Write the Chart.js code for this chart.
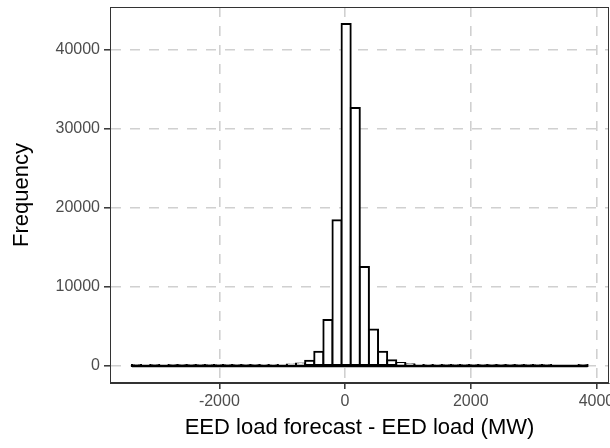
<!DOCTYPE html>
<html>
<head>
<meta charset="utf-8">
<script src="https://cdn.jsdelivr.net/npm/chart.js@4/dist/chart.umd.min.js"></script>
<style>
  html, body { margin: 0; padding: 0; background: #ffffff; }
  .chart-size { position: relative; width: 610px; height: 448px; }
</style>
</head>
<body>
<div class="chart-size">
  <canvas id="canvas"></canvas>
</div>
<script>
// histogram bins (MW), 51 edges for 50 bins
let binEdges = [
  -3390, -3245, -3100, -2955, -2810, -2665, -2520, -2375, -2230, -2085,
  -1940, -1795, -1650, -1505, -1360, -1215, -1070, -925, -780, -635,
  -490, -345, -200, -55, 90, 235, 380, 525, 670, 815,
  960, 1105, 1250, 1395, 1540, 1685, 1830, 1975, 2120, 2265,
  2410, 2555, 2700, 2845, 2990, 3135, 3280, 3425, 3570, 3715,
  3860
];
let counts = [
  2, 0, 1, 0, 1, 2, 1, 3, 4, 6,
  8, 12, 18, 25, 40, 60, 100, 170, 320, 650,
  1800, 5800, 18400, 43200, 32600, 12500, 4600, 1800, 720, 380,
  200, 110, 70, 45, 30, 20, 15, 10, 8, 6,
  4, 3, 2, 2, 1, 1, 0, 0, 0, 1
];
let xTicks = [-2000, 0, 2000, 4000];
let yTicks = [0, 10000, 20000, 30000, 40000];
let xRange = [-3740, 4200];
let yRange = [-2160, 45360];

let bars = counts.map((c, i) => ({ x: (binEdges[i] + binEdges[i + 1]) / 2, y: c }));
let baseline = [
  { x: binEdges[0], y: 0 },
  { x: binEdges[binEdges.length - 1], y: 0 }
];

let tickFont = { family: "'Liberation Sans', Arial, sans-serif", size: 16 };
let titleFont = { family: "'Liberation Sans', Arial, sans-serif", size: 22 };

let panelBorder = {
  id: "panelBorder",
  afterDraw(chart) {
    let a = chart.chartArea;
    let ctx = chart.ctx;
    ctx.save();
    ctx.strokeStyle = "#333333";
    ctx.lineWidth = 1;
    ctx.strokeRect(Math.round(a.left) + 0.5, Math.round(a.top) + 0.5,
      Math.round(a.right - a.left) - 1, Math.round(a.bottom - a.top) - 1);
    ctx.restore();
  }
};

let gridOpts = {
  offset: false,
  color: "#d0d0d0",
  lineWidth: 1.6,
  tickLength: 6,
  tickColor: "#333333",
  tickWidth: 1.5,
  tickBorderDash: []
};
let borderOpts = { display: true, color: "#333333", width: 1, dash: [10, 9] };
let plainLabel = (v) => String(v);

new Chart(document.getElementById("canvas"), {
  type: "bar",
  data: {
    datasets: [
      {
        type: "line",
        data: baseline,
        borderColor: "#000000",
        borderWidth: 2.5,
        pointRadius: 0,
        order: 0
      },
      {
        data: bars,
        backgroundColor: "#ffffff",
        borderColor: "#000000",
        borderWidth: 2,
        borderSkipped: false,
        inflateAmount: 1,
        barPercentage: 1,
        categoryPercentage: 1,
        order: 1
      }
    ]
  },
  options: {
    responsive: true,
    maintainAspectRatio: false,
    animation: false,
    layout: { padding: { top: 7, right: 1, left: 0, bottom: 0 } },
    plugins: { legend: { display: false }, tooltip: { enabled: false } },
    scales: {
      x: {
        type: "linear",
        offset: false,
        min: xRange[0],
        max: xRange[1],
        afterBuildTicks: (scale) => { scale.ticks = xTicks.map(v => ({ value: v })); },
        afterFit: (scale) => {
          scale.height = 65;
          scale.paddingLeft = 0;
          scale.paddingRight = 0;
        },
        grid: gridOpts,
        border: borderOpts,
        ticks: {
          color: "#4d4d4d",
          font: tickFont,
          padding: 3,
          maxRotation: 0,
          autoSkip: false,
          callback: plainLabel
        },
        title: {
          display: true,
          text: "EED load forecast - EED load (MW)",
          color: "#000000",
          font: titleFont,
          padding: { top: 4, bottom: 7 }
        }
      },
      y: {
        min: yRange[0],
        max: yRange[1],
        afterBuildTicks: (scale) => { scale.ticks = yTicks.map(v => ({ value: v })); },
        afterFit: (scale) => {
          scale.width = 110;
          scale.paddingTop = 0;
          scale.paddingBottom = 0;
        },
        grid: gridOpts,
        border: borderOpts,
        ticks: {
          color: "#4d4d4d",
          font: tickFont,
          padding: 4,
          autoSkip: false,
          callback: plainLabel
        },
        title: {
          display: true,
          text: "Frequency",
          color: "#000000",
          font: titleFont,
          padding: { top: 9, bottom: 4 }
        }
      }
    }
  },
  plugins: [panelBorder]
});
</script>
</body>
</html>
